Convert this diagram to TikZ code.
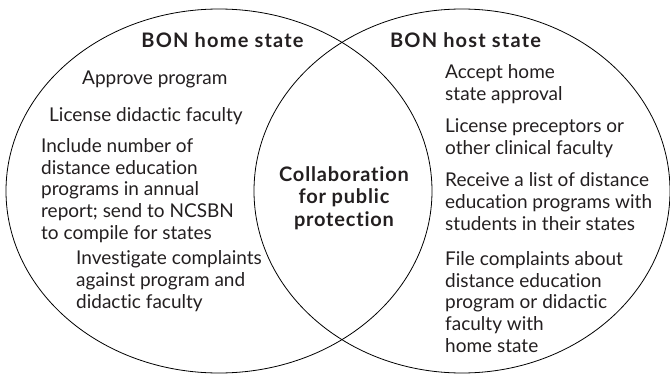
\documentclass[tikz,border=0pt]{standalone}
\usepackage{fontspec}
\setmainfont{Lato}[Ligatures=NoCommon]
\usepackage{tikz}
\usetikzlibrary{shapes.geometric}
\definecolor{inktext}{HTML}{231F20}
\tikzset{
    venn/.style={shape=ellipse, draw=black, line width=0.8pt, inner sep=0pt},
    duty/.style={anchor=base west, align=left, inner sep=0pt, text=inktext, font=\fontsize{19}{21.6}\selectfont},
    heading/.style={anchor=base, align=center, inner sep=0pt, text=inktext, font=\bfseries\fontsize{20}{22.5}\selectfont\addfontfeatures{LetterSpace=4}},
    sidehead/.style={heading, font=\bfseries\fontsize{20}{22.5}\selectfont\addfontfeatures{LetterSpace=6}}}

\begin{document}
\begin{tikzpicture}[x=1pt, y=-1pt]

                    \useasboundingbox (0,0) rectangle (670,375);

                    \node[venn, minimum width=426pt, minimum height=364pt] (H) at (219,191) {};
                    \node[venn, minimum width=416pt, minimum height=364pt] (S) at (462,191) {};

                    \node[sidehead] (Htitle) at (222.5,47) {BON home state};
                    \node[sidehead] (Stitle) at (465.5,47) {BON host state};
                    \node[heading] (C) at (344,226) {Collaboration\\for public\\protection};

                    \node[duty] (H1) at (82,84) {Approve program};
                    \node[duty] (H2) at (49,121) {License didactic faculty};
                    \node[duty] (H3) at (41,239) {Include number of\\distance education\\programs in annual\\report; send to NCSBN\\to compile for states};
                    \node[duty] (H4) at (76,308) {Investigate complaints\\against program and\\didactic faculty};

                    \node[duty] (S1) at (445,100) {Accept home\\state approval};
                    \node[duty] (S2) at (445,154) {License preceptors or\\other clinical faculty};
                    \node[duty] (S3) at (445,230) {Receive a list of distance\\education programs with\\students in their states};
                    \node[duty] (S4) at (445,352) {File complaints about\\distance education\\program or didactic\\faculty with\\home state};

                \end{tikzpicture}
\end{document}
